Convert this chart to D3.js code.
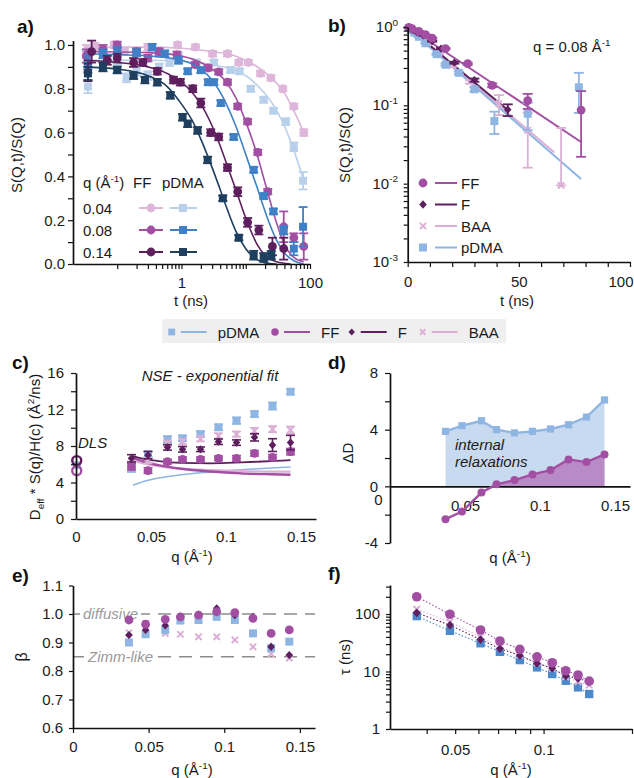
<!DOCTYPE html>
<html>
<head>
<meta charset="utf-8">
<script src="https://cdn.jsdelivr.net/npm/d3@7"></script>
<style>
body { margin: 0; background: #fff; }
</style>
</head>
<body>
<svg id="fig"></svg>
<script>
'use strict';

// ---------------- data ----------------
// a) S(Q,t)/S(Q) vs t, rows are [t (ns), S, err]
let aFF04 = [[0.033,0.97,0.03],[0.045,0.99,0.02],[0.06,0.96,0.02],[0.09,1.0,0.015],[0.13,0.97,0.015],[0.2,0.95,0.015],[0.3,0.99,0.015],[0.45,0.96,0.015],[0.87,1.0,0.012],[1.65,0.99,0.012],[3.05,0.96,0.012],[5.2,0.96,0.012],[7.8,0.92,0.012],[11,0.92,0.012],[17,0.87,0.012],[24.6,0.85,0.012],[37.8,0.80,0.012],[56,0.72,0.012],[80,0.60,0.015]];
let aP04 = [[0.035,0.81,0.03],[0.06,0.90,0.02],[0.1,0.89,0.02],[0.14,0.85,0.02],[0.2,0.88,0.02],[0.3,0.86,0.02],[0.45,0.90,0.015],[0.65,0.92,0.015],[0.9,0.95,0.015],[1.7,0.92,0.012],[3.2,0.92,0.012],[5.8,0.886,0.012],[8,0.88,0.012],[12,0.80,0.012],[19,0.75,0.012],[27,0.70,0.012],[42,0.65,0.015],[56,0.535,0.02],[78,0.38,0.04]];
let aFF08 = [[0.033,0.95,0.03],[0.06,0.98,0.02],[0.1,1.0,0.015],[0.2,0.97,0.015],[0.3,0.94,0.015],[0.45,0.97,0.015],[0.85,0.955,0.015],[1.65,0.91,0.012],[2.6,0.895,0.012],[3.8,0.877,0.012],[5.2,0.83,0.012],[7.5,0.72,0.012],[10.7,0.65,0.012],[15.4,0.51,0.012],[22,0.33,0.012],[39,0.17,0.07],[56,0.12,0.02],[80,0.08,0.06]];
let aP08 = [[0.035,0.92,0.03],[0.06,0.96,0.02],[0.1,0.97,0.02],[0.2,0.965,0.015],[0.35,0.99,0.015],[0.55,0.96,0.015],[0.9,0.93,0.015],[1.25,0.88,0.012],[2.0,0.885,0.012],[2.6,0.83,0.012],[3.2,0.83,0.012],[4.1,0.735,0.012],[6.5,0.58,0.012],[13.3,0.43,0.012],[19,0.31,0.012],[27,0.24,0.012],[39,0.155,0.02],[56,0.07,0.03],[78,0.17,0.09]];
let aFF14 = [[0.035,0.875,0.04],[0.04,0.97,0.05],[0.07,0.93,0.02],[0.1,0.94,0.02],[0.18,0.92,0.02],[0.25,0.92,0.015],[0.42,0.88,0.015],[0.75,0.84,0.015],[0.96,0.83,0.015],[1.5,0.80,0.015],[2,0.735,0.02],[2.85,0.60,0.015],[3.8,0.58,0.015],[5.2,0.44,0.015],[7.5,0.33,0.02],[10.7,0.19,0.02],[16,0.155,0.02],[26,0.08,0.04],[39,0.07,0.05]];
let aP14 = [[0.035,0.87,0.03],[0.06,0.90,0.02],[0.1,0.886,0.015],[0.18,0.86,0.015],[0.27,0.84,0.015],[0.42,0.83,0.015],[0.67,0.77,0.015],[1.04,0.67,0.015],[1.25,0.64,0.015],[1.78,0.61,0.015],[2.55,0.475,0.015],[4.4,0.30,0.012],[7.8,0.12,0.012],[13.3,0.04,0.02],[19,0.03,0.02],[25,0.04,0.02]];
// a) fitted curves, [t, S]
let aFitFF04 = [[0.03,0.99],[0.3,0.99],[1,0.985],[3,0.97],[6,0.955],[10,0.93],[17,0.89],[25,0.85],[40,0.78],[56,0.70],[80,0.60]];
let aFitP04 = [[0.03,0.93],[0.3,0.93],[1,0.925],[3,0.91],[6,0.89],[10,0.86],[17,0.80],[25,0.74],[40,0.63],[56,0.52],[80,0.38]];
let aFitFF08 = [[0.03,0.97],[0.3,0.965],[1,0.95],[2,0.92],[3,0.89],[5,0.83],[7,0.76],[10,0.65],[15,0.50],[20,0.37],[30,0.19],[40,0.09],[56,0.03],[80,0.01]];
let aFitP08 = [[0.03,0.96],[0.3,0.95],[1,0.93],[2,0.89],[3,0.84],[5,0.73],[7,0.63],[10,0.50],[15,0.35],[20,0.24],[30,0.11],[40,0.05],[56,0.015],[80,0.0]];
let aFitFF14 = [[0.03,0.93],[0.1,0.92],[0.3,0.90],[0.6,0.87],[1,0.83],[1.5,0.78],[2,0.73],[3,0.63],[4,0.54],[5,0.46],[7,0.34],[10,0.21],[15,0.09],[20,0.04],[30,0.01],[50,0.0]];
let aFitP14 = [[0.03,0.90],[0.1,0.89],[0.3,0.86],[0.6,0.81],[1,0.73],[1.5,0.65],[2,0.57],[3,0.44],[4,0.34],[5,0.26],[7,0.15],[10,0.07],[15,0.02],[20,0.005],[30,0.0]];
let aLegendQ = ['0.04', '0.08', '0.14'];

// b) q = 0.08, rows are [t (ns), S, err]
let bFF = [[0.5,0.99,0.01],[2,0.95,0.01],[5,0.88,0.01],[8,0.80,0.01],[11,0.72,0.01],[17,0.53,0.01],[27,0.34,0.01],[38,0.18,0.01],[54,0.115,0.025],[78,0.087,0.065]];
let bF = [[0.5,0.98,0.01],[2,0.93,0.01],[4,0.86,0.01],[7,0.78,0.01],[11,0.66,0.01],[15,0.53,0.01],[21,0.35,0.01],[30,0.21,0.01],[45,0.088,0.015]];
let bBAA = [[0.5,0.97,0.01],[2,0.90,0.01],[4,0.82,0.01],[6,0.75,0.01],[9,0.62,0.01],[14,0.46,0.01],[20,0.32,0.01],[28,0.20,0.01],[41,0.105,0.03],[54,0.048,0.032],[69,0.0095,0.042]];
let bPDMA = [[0.5,0.97,0.01],[1.5,0.92,0.01],[3,0.85,0.01],[5,0.75,0.01],[8,0.62,0.01],[13,0.45,0.01],[17,0.33,0.01],[23,0.26,0.01],[30,0.16,0.01],[39,0.063,0.02],[54,0.078,0.03],[77,0.17,0.09]];
let bFitFF = [[0,1.0],[78,0.034]];
let bFitF = [[0,1.0],[45,0.087]];
let bFitBAA = [[0,0.98],[66,0.025]];
let bFitPDMA = [[0,0.97],[78,0.0115]];

// c)-f) share the q grid (1/A)
let qVals = [0.037, 0.048, 0.061, 0.071, 0.083, 0.095, 0.107, 0.119, 0.131, 0.143];
// c) D_eff * S(q)/H(c)
let cPDMA = [5.55, 7.1, 8.73, 8.84, 9.3, 10.05, 10.78, 11.5, 12.38, 13.95];
let cPDMAErr = [0.4, 0.3, 0.35, 0.3, 0.3, 0.3, 0.35, 0.3, 0.4, 0.3];
let cBAA = [5.8, 6.4, 8.3, 8.47, 8.8, 9.1, 9.3, 9.65, 9.85, 9.75];
let cBAAErr = [0.3, 0.3, 0.3, 0.3, 0.3, 0.3, 0.3, 0.35, 0.35, 0.4];
let cF = [6.65, 7.0, 7.85, 7.64, 7.64, 8.47, 8.37, 8.95, 8.1, 8.37];
let cFErr = [0.4, 0.4, 0.3, 0.3, 0.25, 0.3, 0.3, 0.4, 0.7, 0.8];
let cFF = [5.73, 5.3, 6.28, 6.54, 6.54, 6.65, 6.65, 7.2, 6.76, 7.38];
let cFFErr = [0.35, 0.3, 0.25, 0.25, 0.25, 0.25, 0.3, 0.3, 0.3, 0.35];
let cLineQ = [0.038, 0.045, 0.055, 0.07, 0.09, 0.11, 0.13, 0.143];
let cLineF = [6.9, 6.6, 6.35, 6.15, 6.1, 6.2, 6.35, 6.45];
let cLineFF = [6.7, 6.3, 5.9, 5.5, 5.2, 5.0, 4.9, 4.85];
let cLineBAA = [6.4, 6.1, 5.8, 5.5, 5.35, 5.25, 5.2, 5.2];
let cLinePDMA = [3.7, 4.1, 4.5, 4.85, 5.15, 5.4, 5.6, 5.7];
let dlsQ = 0.0005;
let dlsPDMA = 5.9, dlsF = 6.4, dlsFF = 5.3;
// d) Delta D
let dPDMA = [3.88, 4.28, 4.63, 4.0, 3.77, 3.88, 4.05, 4.35, 4.89, 6.1];
let dFF = [-2.32, -1.78, -0.44, 0.14, 0.44, 0.84, 1.15, 1.9, 1.71, 2.25];
// e) stretching exponent beta
let eFF = [0.979, 0.964, 0.981, 0.99, 0.996, 1.008, 1.005, 0.985, 0.932, 0.944];
let eF = [0.926, 0.944, 0.96, 0.99, 0.998, 1.02, 0.996, 0.99, 0.885, 0.856];
let eBAA = [0.934, 0.967, 0.932, 0.929, 0.92, 0.92, 0.909, 0.885, 0.86, 0.845];
let ePDMA = [0.90, 0.929, 0.944, 0.977, 0.979, 0.99, 0.979, 0.932, 0.88, 0.903];
let eRefs = [[1.0, 'diffusive'], [0.85, 'Zimm-like']];
// f) tau (ns)
let fFF = [200, 99, 52.7, 34, 24.3, 18, 14.2, 10.3, 8.7, 6.8];
let fBAA = [121, 73, 40, 27, 19.4, 14.2, 11.4, 8.1, 6.65, 5.8];
let fF = [105, 64, 36, 25, 19, 13.9, 11.4, 8.4, 7.6, 6.6];
let fPDMA = [92, 51, 31, 22, 15.8, 11.8, 9.05, 6.9, 5.3, 4.06];

// ---------------- style ----------------
let FONT = '"Liberation Sans", Arial, Helvetica, sans-serif';
let FS = 15;
let COLOR = {
    FF: '#a24fa3', F: '#5e1f5e', BAA: '#dcb0d6', pDMA: '#8fb5e3',
    FF04: '#ddb6da', FF08: '#a24fa3', FF14: '#5e1f5e',
    P04: '#b9d0ea', P08: '#3f80c6', P14: '#1f3f5f', Pf: '#4b88cc'
};

let svg = d3.select('#fig').attr('width', 634).attr('height', 778)
    .attr('font-family', FONT);

// text with sub/superscripts: parts are strings or [string, 'sup'|'sub']
function richText(g, x, y, parts, size, opts) {
    opts = opts || {};
    let t = g.append('text').attr('x', x).attr('y', y)
        .attr('font-size', size).attr('fill', opts.fill || '#1a1a1a')
        .attr('text-anchor', opts.anchor || 'start');
    if (opts.italic) t.attr('font-style', 'italic');
    if (opts.bold) t.attr('font-weight', 'bold');
    let shift = 0;
    parts.forEach(function(p) {
        let s = typeof p === 'string' ? [p, null] : p;
        let target = s[1] === 'sup' ? -0.42 * size : (s[1] === 'sub' ? 0.28 * size : 0);
        let ts = t.append('tspan').text(s[0]).attr('dy', target - shift);
        if (s[1]) ts.attr('font-size', size * 0.66);
        shift = target;
    });
    return t;
}

function vLabel(cx, cy, parts, size) {
    let g = svg.append('g').attr('transform', 'translate(' + cx + ',' + cy + ') rotate(-90)');
    richText(g, 0, size * 0.35, parts, size, {anchor: 'middle'});
}

function marker(g, shape, x, y, color, s) {
    s = s || 1;
    if (shape === 'circle') {
        g.append('circle').attr('cx', x).attr('cy', y).attr('r', 4.2 * s).attr('fill', color);
    } else if (shape === 'square') {
        g.append('rect').attr('x', x - 3.8 * s).attr('y', y - 3.8 * s)
            .attr('width', 7.6 * s).attr('height', 7.6 * s).attr('fill', color);
    } else if (shape === 'diamond') {
        let r = 3.6 * s;
        g.append('path').attr('d', 'M' + x + ',' + (y - r * 1.1) + 'L' + (x + r) + ',' + y + 'L' + x + ',' + (y + r * 1.1) + 'L' + (x - r) + ',' + y + 'Z')
            .attr('fill', color);
    } else if (shape === 'x') {
        let r = 3 * s;
        g.append('path').attr('d', 'M' + (x - r) + ',' + (y - r) + 'L' + (x + r) + ',' + (y + r) + 'M' + (x - r) + ',' + (y + r) + 'L' + (x + r) + ',' + (y - r))
            .attr('stroke', color).attr('stroke-width', 2).attr('fill', 'none');
    }
}

function errBar(g, x, yLo, yHi, color, cap, w) {
    w = w || 1.6;
    g.append('line').attr('x1', x).attr('x2', x).attr('y1', yLo).attr('y2', yHi)
        .attr('stroke', color).attr('stroke-width', w);
    [yLo, yHi].forEach(function(yy) {
        g.append('line').attr('x1', x - cap / 2).attr('x2', x + cap / 2).attr('y1', yy).attr('y2', yy)
            .attr('stroke', color).attr('stroke-width', w);
    });
}

function styleAxis(g) {
    g.attr('font-family', FONT).attr('font-size', FS);
    g.selectAll('.domain').attr('stroke', '#111').attr('stroke-width', 1.7);
    g.selectAll('.tick line').attr('stroke', '#111').attr('stroke-width', 1.2);
    g.selectAll('.tick text').attr('fill', '#1a1a1a');
}

function logTicks(lo, hi) {
    let out = [];
    for (let e = Math.floor(Math.log10(lo)); e <= Math.ceil(Math.log10(hi)); e++) {
        for (let k = 1; k <= 9; k++) {
            let v = +(k * Math.pow(10, e)).toPrecision(3);
            if (v >= lo * 0.999 && v <= hi * 1.001) out.push(v);
        }
    }
    return out;
}

function panelLabel(x, y, s) {
    svg.append('text').attr('x', x).attr('y', y).attr('font-size', 19)
        .attr('font-weight', 'bold').attr('fill', '#111').text(s);
}

// ---------------- panel a ----------------
let xA = d3.scaleLog().domain([0.0205, 100]).range([73, 310]);
let yA = d3.scaleLinear().domain([0, 1.02]).range([264, 40.6]);
let gA = svg.append('g');

let aSeries = [
    [aFF04, aFitFF04, COLOR.FF04, 'circle'],
    [aP04, aFitP04, COLOR.P04, 'square'],
    [aFF08, aFitFF08, COLOR.FF08, 'circle'],
    [aP08, aFitP08, COLOR.P08, 'square'],
    [aFF14, aFitFF14, COLOR.FF14, 'circle'],
    [aP14, aFitP14, COLOR.P14, 'square']
];
let lineA = d3.line().x(function(d) { return xA(d[0]); }).y(function(d) { return yA(d[1]); })
    .curve(d3.curveMonotoneX);
aSeries.forEach(function(s) {
    gA.append('path').datum(s[1]).attr('d', lineA).attr('fill', 'none')
        .attr('stroke', s[2]).attr('stroke-width', 1.6);
    s[0].forEach(function(d) {
        errBar(gA, xA(d[0]), yA(Math.max(d[1] - d[2], 0)), yA(d[1] + d[2]), s[2], 9, 1.8);
        marker(gA, s[3], xA(d[0]), yA(d[1]), s[2], 1.05);
    });
});

gA.append('g').attr('transform', 'translate(0,264)')
    .call(d3.axisBottom(xA).tickValues(logTicks(0.1, 100))
        .tickFormat(function(d) { return (d === 1 || d === 100) ? d : ''; })
        .tickSize(5).tickPadding(8).tickSizeOuter(0))
    .call(styleAxis);
gA.append('g').attr('transform', 'translate(73,0)')
    .call(d3.axisLeft(yA).tickValues(d3.range(0, 11).map(function(i) { return i / 10; }))
        .tickFormat(function(d) { return Math.round(d * 10) % 2 === 0 ? d.toFixed(1) : ''; })
        .tickSize(5).tickPadding(3).tickSizeOuter(0))
    .call(styleAxis);

vLabel(17, 155, ['S(Q,t)/S(Q)'], FS);
richText(svg, 191, 306, ['t (ns)'], FS, {anchor: 'middle'});

// legend of a
richText(svg, 83, 188, ['q (\u00C5', ['-1', 'sup'], ')'], FS);
richText(svg, 133, 188, ['FF'], FS);
richText(svg, 162, 188, ['pDMA'], FS);
let aLegRows = [[COLOR.FF04, COLOR.P04], [COLOR.FF08, COLOR.P08], [COLOR.FF14, COLOR.P14]];
aLegendQ.forEach(function(q, i) {
    let cy = 208 + i * 22;
    richText(svg, 83, cy + 6, [q], FS);
    svg.append('line').attr('x1', 139).attr('x2', 163).attr('y1', cy).attr('y2', cy)
        .attr('stroke', aLegRows[i][0]).attr('stroke-width', 2);
    marker(svg, 'circle', 151, cy, aLegRows[i][0], 1.05);
    svg.append('line').attr('x1', 170).attr('x2', 197).attr('y1', cy).attr('y2', cy)
        .attr('stroke', aLegRows[i][1]).attr('stroke-width', 2);
    marker(svg, 'square', 183, cy, aLegRows[i][1], 1.05);
});
panelLabel(17, 33, 'a)');

// ---------------- panel b ----------------
let xB = d3.scaleLinear().domain([0, 100]).range([407.7, 630]);
let yB = d3.scaleLog().domain([0.001, 1]).range([262, 27]);
let gB = svg.append('g');
let bSeries = [
    [bBAA, bFitBAA, COLOR.BAA, 'x'],
    [bPDMA, bFitPDMA, COLOR.pDMA, 'square'],
    [bF, bFitF, COLOR.F, 'diamond'],
    [bFF, bFitFF, COLOR.FF, 'circle']
];
let lineB = d3.line().x(function(d) { return xB(d[0]); }).y(function(d) { return yB(d[1]); });
bSeries.forEach(function(s) {
    gB.append('path').datum(s[1]).attr('d', lineB).attr('fill', 'none')
        .attr('stroke', s[2]).attr('stroke-width', 2);
});
bSeries.forEach(function(s) {
    s[0].forEach(function(d) {
        let lo = d[1] - d[2] > 0.001 ? d[1] - d[2] : d[1];
        errBar(gB, xB(d[0]), yB(lo), yB(d[1] + d[2]), s[2], 10, 1.8);
        marker(gB, s[3], xB(d[0]), yB(d[1]), s[2], 1.05);
    });
});
gB.append('g').attr('transform', 'translate(0,262)')
    .call(d3.axisBottom(xB).tickValues(d3.range(0, 101, 10))
        .tickFormat(function(d) { return d % 50 === 0 ? d : ''; })
        .tickSize(5).tickPadding(9).tickSizeOuter(0))
    .call(styleAxis);
// keep the last label inside the page
gB.selectAll('.tick').filter(function(d) { return d === 100; }).select('text')
    .attr('text-anchor', 'end').attr('x', 3);
gB.append('g').attr('transform', 'translate(407.7,0)')
    .call(d3.axisLeft(yB).tickValues(logTicks(0.001, 1)).tickFormat('')
        .tickSize(4).tickSizeOuter(0))
    .call(styleAxis);
[0, -1, -2, -3].forEach(function(e) {
    richText(gB, 398, yB(Math.pow(10, e)) + 5, ['10', [String(e), 'sup']], FS, {anchor: 'end'});
});
vLabel(345, 145, ['S(Q,t)/S(Q)'], FS);
richText(svg, 517, 306, ['t (ns)'], FS, {anchor: 'middle'});
richText(svg, 533, 52, ['q = 0.08 \u00C5', ['-1', 'sup']], FS);

let bLeg = [['FF', COLOR.FF, 'circle'], ['F', COLOR.F, 'diamond'], ['BAA', COLOR.BAA, 'x'], ['pDMA', COLOR.pDMA, 'square']];
bLeg.forEach(function(l, i) {
    let cy = 183 + i * 21.5;
    marker(svg, l[2], 423, cy, l[1], 1.05);
    svg.append('line').attr('x1', 435).attr('x2', 457).attr('y1', cy).attr('y2', cy)
        .attr('stroke', l[1]).attr('stroke-width', 2);
    richText(svg, 461, cy + 5.5, [l[0]], FS);
});
panelLabel(328, 32, 'b)');

// ---------------- middle legend ----------------
svg.append('rect').attr('x', 162).attr('y', 319).attr('width', 344).attr('height', 24).attr('fill', '#efefef');
let midLeg = [['pDMA', COLOR.pDMA, 'square', 171.7], ['FF', COLOR.FF, 'circle', 275], ['F', COLOR.F, 'diamond', 351.7], ['BAA', COLOR.BAA, 'x', 422.7]];
midLeg.forEach(function(l) {
    let cy = 332;
    marker(svg, l[2], l[3], cy, l[1], 0.9);
    svg.append('line').attr('x1', l[3] + 9).attr('x2', l[3] + 35).attr('y1', cy).attr('y2', cy)
        .attr('stroke', l[1]).attr('stroke-width', 2);
    richText(svg, l[3] + 46, cy + 5.5, [l[0]], FS);
});

// ---------------- panel c ----------------
let xC = d3.scaleLinear().domain([0, 0.16]).range([76, 316]);
let yC = d3.scaleLinear().domain([0, 16]).range([519, 373]);
let gC = svg.append('g');
let lineC = d3.line().x(function(d) { return xC(d[0]); }).y(function(d) { return yC(d[1]); })
    .curve(d3.curveMonotoneX);
[[cLinePDMA, COLOR.pDMA, 1.5], [cLineBAA, COLOR.BAA, 2.2], [cLineFF, COLOR.FF, 2.4], [cLineF, COLOR.F, 1.8]].forEach(function(s) {
    gC.append('path').datum(cLineQ.map(function(q, i) { return [q, s[0][i]]; }))
        .attr('d', lineC).attr('fill', 'none').attr('stroke', s[1]).attr('stroke-width', s[2]);
});
[[cPDMA, cPDMAErr, COLOR.pDMA, 'square'], [cBAA, cBAAErr, COLOR.BAA, 'x'], [cFF, cFFErr, COLOR.FF, 'circle'], [cF, cFErr, COLOR.F, 'diamond']].forEach(function(s) {
    qVals.forEach(function(q, i) {
        errBar(gC, xC(q), yC(s[0][i] - s[1][i]), yC(s[0][i] + s[1][i]), s[2], 9, 1.6);
        marker(gC, s[3], xC(q), yC(s[0][i]), s[2], 1.05);
    });
});
// DLS points
marker(gC, 'square', xC(dlsQ), yC(dlsPDMA), COLOR.pDMA, 1);
gC.append('circle').attr('cx', xC(dlsQ)).attr('cy', yC(dlsF)).attr('r', 4.5)
    .attr('fill', 'none').attr('stroke', COLOR.F).attr('stroke-width', 2.4);
gC.append('circle').attr('cx', xC(dlsQ)).attr('cy', yC(dlsFF)).attr('r', 4.5)
    .attr('fill', 'none').attr('stroke', COLOR.FF).attr('stroke-width', 2.4);

gC.append('g').attr('transform', 'translate(0,519)')
    .call(d3.axisBottom(xC).tickValues([0, 0.05, 0.1, 0.15]).tickFormat(function(d) { return d; })
        .tickSize(0).tickPadding(12).tickSizeOuter(0))
    .call(styleAxis);
gC.append('g').attr('transform', 'translate(76,0)')
    .call(d3.axisLeft(yC).tickValues(d3.range(0, 17, 2))
        .tickFormat(function(d) { return d % 4 === 0 ? d : ''; })
        .tickSize(5).tickPadding(7).tickSizeOuter(0))
    .call(styleAxis);
vLabel(35, 447, ['D', ['eff', 'sub'], ' * S(q)/H(c) (\u00C5', ['2', 'sup'], '/ns)'], FS);
richText(svg, 192, 562, ['q (\u00C5', ['-1', 'sup'], ')'], FS, {anchor: 'middle'});
richText(svg, 210, 381, ['NSE - exponential fit'], FS, {anchor: 'middle', italic: true});
richText(svg, 78, 448, ['DLS'], FS, {italic: true});
panelLabel(12, 369, 'c)');

// ---------------- panel d ----------------
let xD = d3.scaleLinear().domain([0, 0.16]).range([390, 630]);
let yD = d3.scaleLinear().domain([-4, 8]).range([543, 373]);
let gD = svg.append('g');
let dPts = function(arr) { return qVals.map(function(q, i) { return [q, arr[i]]; }); };
let areaD = d3.area().x(function(d) { return xD(d[0]); }).y0(yD(0)).y1(function(d) { return yD(d[1]); });
let lineD = d3.line().x(function(d) { return xD(d[0]); }).y(function(d) { return yD(d[1]); });
svg.append('defs').append('clipPath').attr('id', 'dPos')
    .append('rect').attr('x', 380).attr('y', 360).attr('width', 260).attr('height', yD(0) - 360);
gD.append('path').datum(dPts(dPDMA)).attr('d', areaD).attr('fill', '#c8daf0');
gD.append('path').datum(dPts(dFF)).attr('d', areaD).attr('fill', '#b88bc7')
    .attr('clip-path', 'url(#dPos)');
gD.append('g').attr('transform', 'translate(0,' + yD(0) + ')')
    .call(d3.axisBottom(xD).tickValues([0, 0.05, 0.1, 0.15]).tickFormat(function(d) { return d; })
        .tickSize(0).tickPadding(14).tickSizeOuter(0))
    .call(styleAxis);
gD.append('g').attr('transform', 'translate(390,0)')
    .call(d3.axisLeft(yD).tickValues(d3.range(-4, 9, 2))
        .tickFormat(function(d) { return d % 4 === 0 ? d : ''; })
        .tickSize(5).tickPadding(7).tickSizeOuter(0))
    .call(styleAxis);
gD.selectAll('.tick').filter(function(d) { return d === 0; }).select('text')
    .attr('x', -12).attr('dy', '0.32em');
[[dPDMA, COLOR.pDMA, 'square'], [dFF, COLOR.FF, 'circle']].forEach(function(s) {
    gD.append('path').datum(dPts(s[0])).attr('d', lineD).attr('fill', 'none')
        .attr('stroke', s[1]).attr('stroke-width', 2.4);
    dPts(s[0]).forEach(function(d) { marker(gD, s[2], xD(d[0]), yD(d[1]), s[1], 0.95); });
});
richText(svg, 455, 450, ['internal'], FS, {italic: true});
richText(svg, 455, 467, ['relaxations'], FS, {italic: true});
vLabel(348, 453, ['\u0394D'], FS);
richText(svg, 510, 563, ['q (\u00C5', ['-1', 'sup'], ')'], FS, {anchor: 'middle'});
panelLabel(328, 369, 'd)');

// ---------------- panel e ----------------
let xE = d3.scaleLinear().domain([0, 0.16]).range([73, 315]);
let yE = d3.scaleLinear().domain([0.6, 1.1]).range([728, 585.5]);
let gE = svg.append('g');
let gELines = gE.append('g'), gEMask = gE.append('g'), gEText = gE.append('g');
eRefs.forEach(function(r, i) {
    let yy = yE(r[0]);
    gELines.append('line').attr('x1', 74).attr('x2', 315).attr('y1', yy).attr('y2', yy)
        .attr('stroke', '#8c8c8c').attr('stroke-width', 1.6).attr('stroke-dasharray', '13,8');
    let tx = i === 0 ? 83 : 88;
    let t = richText(gEText, tx, yy + 5, [r[1]], FS, {italic: true, fill: '#9a9a9a'});
    let bb = t.node().getBBox();
    gEMask.append('rect').attr('x', bb.x - 3).attr('y', yy - 3).attr('width', bb.width + 6)
        .attr('height', 6).attr('fill', '#fff');
});
[[eBAA, COLOR.BAA, 'x'], [ePDMA, COLOR.pDMA, 'square'], [eF, COLOR.F, 'diamond'], [eFF, COLOR.FF, 'circle']].forEach(function(s) {
    qVals.forEach(function(q, i) { marker(gE, s[2], xE(q), yE(s[0][i]), s[1], 1.05); });
});
gE.append('g').attr('transform', 'translate(0,728)')
    .call(d3.axisBottom(xE).tickValues([0, 0.05, 0.1, 0.15]).tickFormat(function(d) { return d; })
        .tickSize(5).tickPadding(8).tickSizeOuter(0))
    .call(styleAxis);
gE.append('g').attr('transform', 'translate(73,0)')
    .call(d3.axisLeft(yE).tickValues([0.6, 0.7, 0.8, 0.9, 1.0, 1.1])
        .tickFormat(function(d) { return d.toFixed(1); })
        .tickSize(4).tickPadding(6).tickSizeOuter(0))
    .call(styleAxis);
vLabel(21, 657, ['\u03B2'], FS + 1);
richText(svg, 192, 775, ['q (\u00C5', ['-1', 'sup'], ')'], FS, {anchor: 'middle'});
panelLabel(12, 582, 'e)');

// ---------------- panel f ----------------
let xF = d3.scaleLog().domain([0.03, 0.2]).range([390, 632]);
let yF = d3.scaleLog().domain([1, 320]).range([729, 585]);
let gF = svg.append('g');
let lineF = d3.line().x(function(d) { return xF(d[0]); }).y(function(d) { return yF(d[1]); });
let fSeries = [[fPDMA, COLOR.Pf, 'square'], [fBAA, COLOR.BAA, 'x'], [fF, COLOR.F, 'diamond'], [fFF, COLOR.FF, 'circle']];
fSeries.forEach(function(s) {
    gF.append('path').datum(qVals.map(function(q, i) { return [q, s[0][i]]; })).attr('d', lineF)
        .attr('fill', 'none').attr('stroke', s[1]).attr('stroke-width', 1.1).attr('stroke-dasharray', '1.5,2');
});
fSeries.forEach(function(s) {
    qVals.forEach(function(q, i) { marker(gF, s[2], xF(q), yF(s[0][i]), s[1], s[2] === 'circle' ? 1.15 : 1.1); });
});
gF.append('g').attr('transform', 'translate(0,729)')
    .call(d3.axisBottom(xF).tickValues(logTicks(0.04, 0.2))
        .tickFormat(function(d) { return (d === 0.05 || d === 0.1) ? d : ''; })
        .tickSize(5).tickPadding(10).tickSizeOuter(0))
    .call(styleAxis);
gF.append('g').attr('transform', 'translate(390,0)')
    .call(d3.axisLeft(yF).tickValues(logTicks(1, 300))
        .tickFormat(function(d) { return (d === 1 || d === 10 || d === 100) ? d : ''; })
        .tickSize(4).tickPadding(6).tickSizeOuter(0))
    .call(styleAxis);
vLabel(345, 657, ['\u03C4 (ns)'], FS);
richText(svg, 511, 775, ['q (\u00C5', ['-1', 'sup'], ')'], FS, {anchor: 'middle'});
panelLabel(328, 580, 'f)');
</script>
</body>
</html>
